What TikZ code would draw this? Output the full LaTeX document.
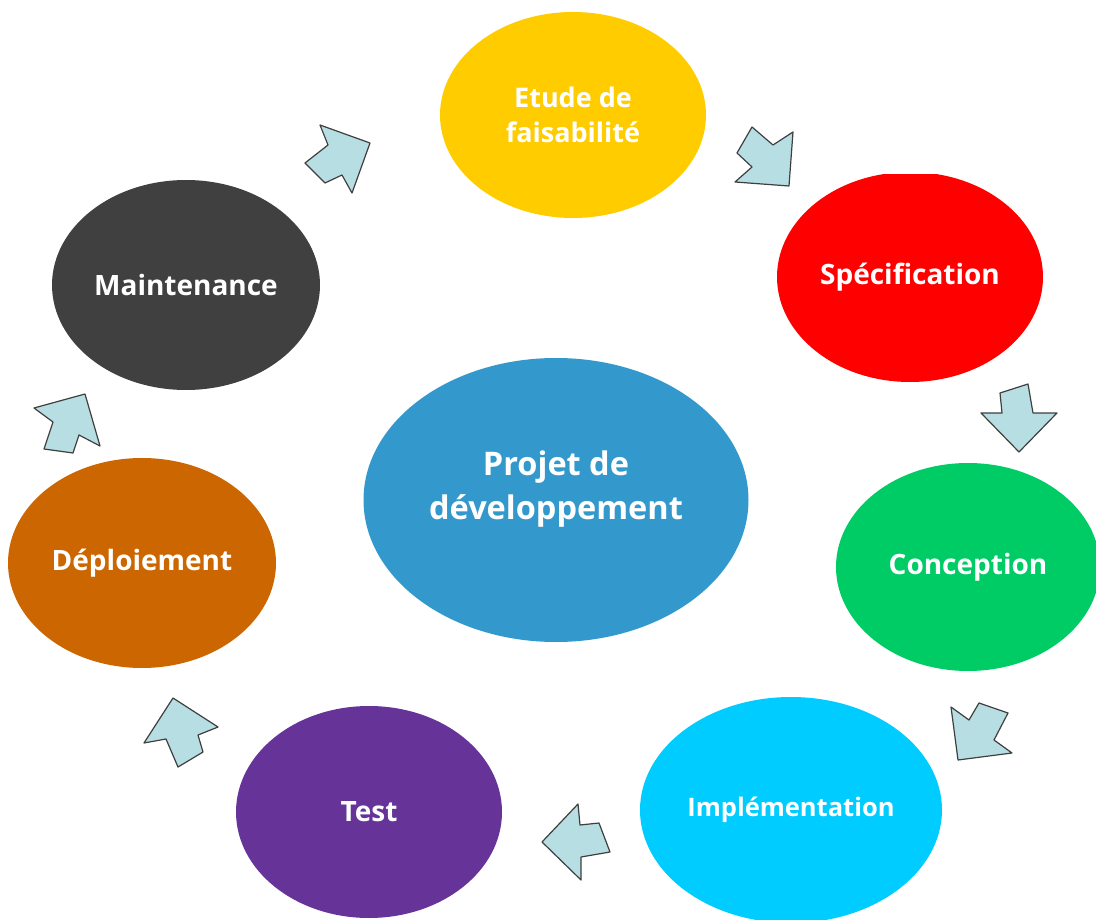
\documentclass[tikz,border=0pt]{standalone}
\usepackage{fontspec}
\setmainfont{Open Sans}
\usetikzlibrary{shapes.geometric}
\definecolor{cyel}{HTML}{FFCC00}
\definecolor{cred}{HTML}{FF0000}
\definecolor{cgreen}{HTML}{00CC66}
\definecolor{ccyan}{HTML}{00CCFF}
\definecolor{cpurple}{HTML}{663399}
\definecolor{corange}{HTML}{CC6600}
\definecolor{cdark}{HTML}{404040}
\definecolor{cblue}{HTML}{3399CC}
\definecolor{arrfill}{HTML}{B7DEE2}
\definecolor{arrline}{HTML}{3F3F3F}
\tikzset{
  phase/.style={ellipse, inner sep=0pt, text=white, font=\bfseries\fontsize{28}{35}\selectfont, align=center},
  blockarrow/.style={fill=arrfill, draw=arrline, line width=1.2pt, line join=round},
  label text/.style={text=white, font=\bfseries\fontsize{32.5}{44}\selectfont, align=center}
}
\begin{document}
\begin{tikzpicture}[x=1pt,y=-1pt]
\useasboundingbox (0,0) rectangle (1096,920);
\clip (0,0) rectangle (1096,920);
\node[phase, fill=cyel, minimum width=266pt, minimum height=206pt, font=\bfseries\fontsize{27}{35}\selectfont] (etude) at (573,115) {Etude de\\faisabilité};
\begin{scope}
\clip (700,175) rectangle (1096,400);
\node[phase, fill=cred, minimum width=266pt, minimum height=210pt] (spec) at (910,277) {Spécification};
\end{scope}
\node[phase, fill=cgreen, minimum width=264pt, minimum height=208pt] (conc) at (968,567) {Conception};
\node[phase, fill=ccyan, minimum width=302pt, minimum height=226pt, font=\bfseries\fontsize{25.5}{35}\selectfont] (impl) at (791,810) {Implémentation};
\node[phase, fill=cpurple, minimum width=266pt, minimum height=212pt] (test) at (369,812) {Test};
\node[phase, fill=corange, minimum width=268pt, minimum height=210pt] (depl) at (142,563) {Déploiement};
\node[phase, fill=cdark, minimum width=268pt, minimum height=210pt] (maint) at (186,285) {Maintenance};
\node[ellipse, inner sep=0pt, fill=cblue, minimum width=385pt, minimum height=284pt] (projet) at (556,500) {};
\node[label text] (projettext) at (556,489) {Projet de\\développement};
% block arrows
\draw[blockarrow] (320,125) -- (370,143) -- (352,193) -- (342,175) -- (325,183) -- (305,163) -- (328,145) -- cycle;
\draw[blockarrow] (752,127) -- (773,145) -- (793,132) -- (789,186) -- (735,182) -- (752,167) -- (737,153) -- cycle;
\draw[blockarrow] (1000,393) -- (1028,384) -- (1033,413) -- (1057,413) -- (1019,452) -- (981,413) -- (1002,413) -- cycle;
\draw[blockarrow] (951,707) -- (969,720) -- (979,703) -- (1008,713) -- (994,740) -- (1012,753) -- (958,760) -- cycle;
\draw[blockarrow] (578,804) -- (580,825) -- (599,823) -- (610,852) -- (581,857) -- (581,880) -- (542,842) -- cycle;
\draw[blockarrow] (173,698) -- (218,727) -- (198,735) -- (203,752) -- (178,767) -- (166,739) -- (144,743) -- cycle;
\draw[blockarrow] (34,408) -- (85,394) -- (100,446) -- (79,435) -- (73,453) -- (44,449) -- (53,422) -- cycle;
\end{tikzpicture}
\end{document}
